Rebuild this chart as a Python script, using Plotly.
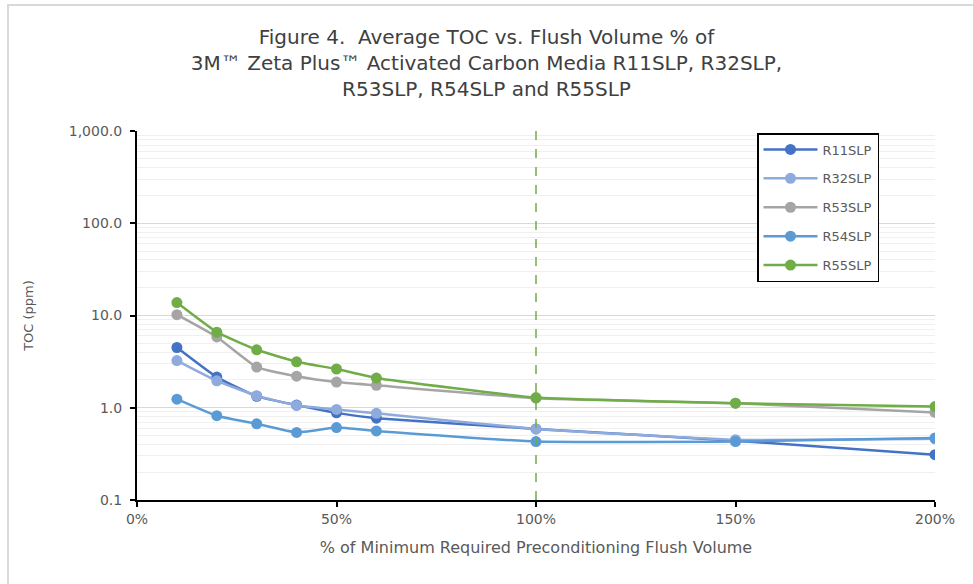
import plotly.graph_objects as go

x_pct = [10, 20, 30, 40, 50, 60, 100, 150, 200]
r11 = [4.5, 2.15, 1.33, 1.07, 0.88, 0.77, 0.59, 0.44, 0.31]
r32 = [3.25, 1.96, 1.35, 1.06, 0.96, 0.87, 0.59, 0.45, 0.46]
r53 = [10.2, 5.85, 2.76, 2.2, 1.9, 1.75, 1.27, 1.12, 0.89]
r54 = [1.24, 0.82, 0.67, 0.54, 0.61, 0.56, 0.43, 0.43, 0.47]
r55 = [13.8, 6.6, 4.25, 3.15, 2.63, 2.1, 1.29, 1.12, 1.03]

names = ["R11SLP", "R32SLP", "R53SLP", "R54SLP", "R55SLP"]
series = [r11, r32, r53, r54, r55]
colors = ["#4472C4", "#8FAADC", "#A5A5A5", "#5B9BD5", "#70AD47"]

y_tickvals = [0.1, 1, 10, 100, 1000]
y_ticktext = ["0.1", "1.0", "10.0", "100.0", "1,000.0"]
x_tickvals = [0, 50, 100, 150, 200]
x_ticktext = ["0%", "50%", "100%", "150%", "200%"]

FONT = "DejaVu Sans"
TXT = "#595959"

fig = go.Figure()
for name, ys, c in zip(names, series, colors):
    fig.add_trace(go.Scatter(
        x=x_pct, y=ys, name=name, mode="lines+markers",
        line=dict(color=c, width=2.5, shape="spline", smoothing=0.4),
        marker=dict(color=c, size=11),
        legendgroup=name,
    ))

fig.add_shape(type="line", xref="x", yref="paper", x0=100, x1=100, y0=0, y1=1,
              line=dict(color="#70AD47", width=1.5, dash="dash"), layer="above")

# chart frame
fig.add_shape(type="rect", xref="paper", yref="paper",
              x0=(8 - 137) / 798, x1=1.2, y0=-0.5, y1=1 + (131 - 5) / 369,
              line=dict(color="#D9D9D9", width=2), fillcolor="rgba(0,0,0,0)", layer="below")

fig.update_layout(
    width=973, height=584,
    margin=dict(l=137, r=38, t=131, b=84),
    paper_bgcolor="white", plot_bgcolor="white",
    font=dict(family=FONT, color=TXT, size=13),
    title=dict(
        text="Figure 4.  Average TOC vs. Flush Volume % of<br>3M™ Zeta Plus™ Activated Carbon Media R11SLP, R32SLP,<br>R53SLP, R54SLP and R55SLP",
        x=0.5, xref="container", xanchor="center",
        y=1 - 44 / 584, yref="container", yanchor="top",
        font=dict(family=FONT, size=20, color="#404040"),
    ),
    legend=dict(
        x=(757 - 137) / 798, y=1 - (133 - 131) / 369, xanchor="left", yanchor="top",
        bordercolor="black", borderwidth=1.5, bgcolor="white",
        font=dict(family=FONT, size=13, color=TXT),
        tracegroupgap=9, traceorder="grouped", itemwidth=54,
    ),
    showlegend=True,
)

fig.update_xaxes(
    range=[0, 200], tickvals=x_tickvals, ticktext=x_ticktext,
    showgrid=False, zeroline=False,
    showline=True, linecolor="black", linewidth=2,
    ticks="outside", ticklen=5, tickcolor="black", tickwidth=1.5,
    tickfont=dict(size=14, color=TXT),
    title=dict(text="% of Minimum Required Preconditioning Flush Volume",
               font=dict(size=16, color=TXT), standoff=16),
)
fig.update_yaxes(
    type="log", range=[-1, 3], tickvals=y_tickvals, ticktext=y_ticktext,
    showgrid=True, gridcolor="#D9D9D9", gridwidth=1,
    minor=dict(dtick="D1", showgrid=True, gridcolor="#F0F0F0", gridwidth=1, ticks=""),
    showline=True, linecolor="black", linewidth=2,
    ticks="outside", ticklen=5, tickcolor="black", tickwidth=1.5, ticklabelstandoff=5,
    tickfont=dict(size=14, color=TXT),
    title=dict(text="TOC (ppm)", font=dict(size=13, color=TXT), standoff=32),
)

fig.write_html("out.html")
